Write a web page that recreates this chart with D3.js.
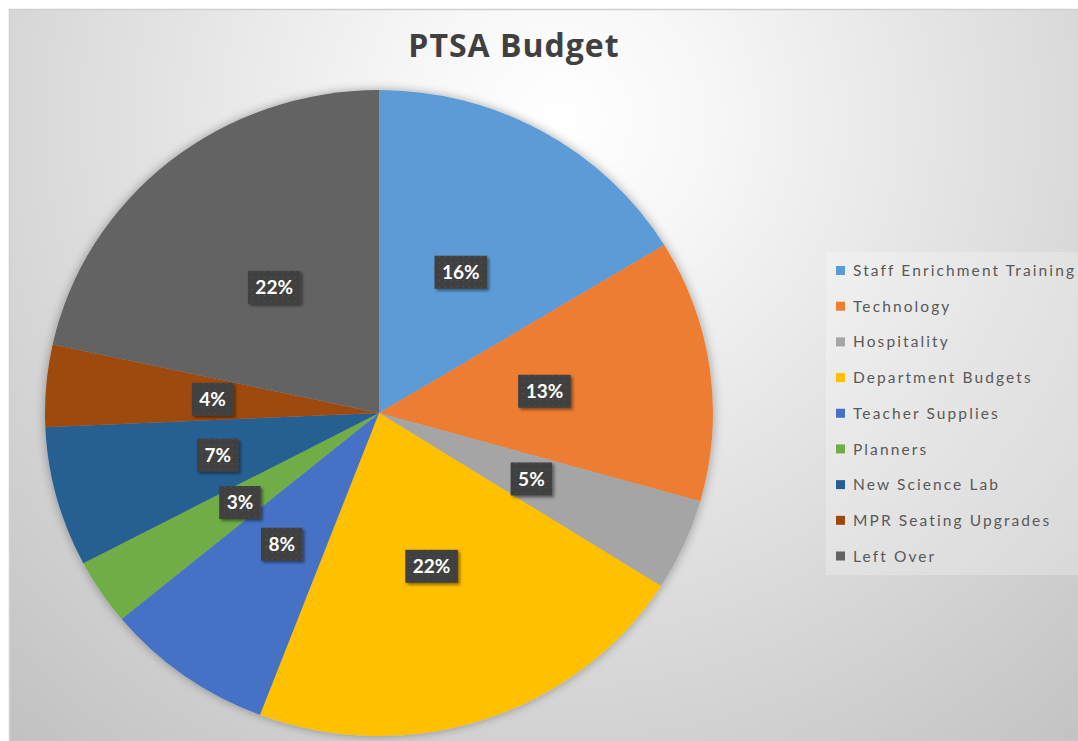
<!DOCTYPE html>
<html>
<head>
<meta charset="utf-8">
<script src="https://cdn.jsdelivr.net/npm/d3@7"></script>
<style>
  html, body { margin: 0; padding: 0; background: #fff; }
  svg { display: block; }
</style>
</head>
<body>
<div id="chart"></div>
<script>
// budget shares (percent)
const categories = ["Staff Enrichment Training", "Technology", "Hospitality", "Department Budgets",
  "Teacher Supplies", "Planners", "New Science Lab", "MPR Seating Upgrades", "Left Over"];
const values = [16.3, 13.1, 4.6, 21.8, 8.2, 3.3, 7.0, 4.1, 21.6];
const colors = ["#5B9BD5", "#ED7D31", "#A5A5A5", "#FFC000", "#4472C4", "#70AD47", "#255E91", "#9E480E", "#636363"];

const W = 1078, H = 741;
const cx = 379, cy = 413, r = 323, sx = 1.034; // pie is slightly wider than tall

const svg = d3.select("#chart").append("svg")
  .attr("width", W).attr("height", H);

const defs = svg.append("defs");

const bg = defs.append("radialGradient")
  .attr("id", "bg").attr("gradientUnits", "userSpaceOnUse")
  .attr("cx", 560).attr("cy", 120).attr("r", 820);
bg.append("stop").attr("offset", "0%").attr("stop-color", "#ffffff");
bg.append("stop").attr("offset", "18%").attr("stop-color", "#f7f7f7");
bg.append("stop").attr("offset", "100%").attr("stop-color", "#c2c2c2");

const pieShadow = defs.append("filter").attr("id", "pieShadow")
  .attr("x", "-10%").attr("y", "-10%").attr("width", "120%").attr("height", "120%");
pieShadow.append("feDropShadow").attr("dx", 0).attr("dy", 0)
  .attr("stdDeviation", 5).attr("flood-color", "#000").attr("flood-opacity", 0.35);

const boxShadow = defs.append("filter").attr("id", "boxShadow")
  .attr("x", "-20%").attr("y", "-20%").attr("width", "150%").attr("height", "150%");
boxShadow.append("feDropShadow").attr("dx", 2).attr("dy", 2)
  .attr("stdDeviation", 1.6).attr("flood-color", "#000").attr("flood-opacity", 0.45);

const dots = defs.append("pattern").attr("id", "dots")
  .attr("patternUnits", "userSpaceOnUse").attr("width", 6).attr("height", 6);
dots.append("rect").attr("width", 6).attr("height", 6).attr("fill", "#404040");
dots.append("rect").attr("x", 2).attr("y", 2).attr("width", 1).attr("height", 1).attr("fill", "#5c5c5c");

// chart area
svg.append("rect")
  .attr("x", 9.5).attr("y", 9.5).attr("width", W - 9).attr("height", H - 9)
  .attr("fill", "url(#bg)").attr("stroke", "#d0d0d0").attr("stroke-width", 1.5);

svg.append("text")
  .attr("x", 514).attr("y", 57)
  .attr("text-anchor", "middle")
  .attr("font-family", "'Open Sans', Lato, sans-serif")
  .attr("font-weight", "bold")
  .attr("font-size", 32)
  .attr("letter-spacing", 1)
  .attr("fill", "#404040")
  .text("PTSA Budget");

const pie = d3.pie().sort(null).value(d => d);
const arcs = pie(values);
const arc = d3.arc().innerRadius(0).outerRadius(r);
const labelArc = d3.arc().innerRadius(r * 0.5).outerRadius(r * 0.5);

svg.append("g")
  .attr("transform", `translate(${cx},${cy}) scale(${sx},1)`)
  .attr("filter", "url(#pieShadow)")
  .selectAll("path")
  .data(arcs)
  .enter().append("path")
  .attr("d", arc)
  .attr("fill", (d, i) => colors[i]);

const labels = svg.append("g")
  .selectAll("g")
  .data(arcs)
  .enter().append("g")
  .attr("transform", d => {
    const [x, y] = labelArc.centroid(d);
    return `translate(${cx + x * sx},${cy + y})`;
  });

labels.append("rect")
  .attr("class", "box")
  .attr("fill", "url(#dots)")
  .attr("filter", "url(#boxShadow)");

labels.append("text")
  .attr("text-anchor", "middle")
  .attr("dy", "0.35em")
  .attr("font-family", "Lato, 'Open Sans', sans-serif")
  .attr("font-weight", "bold")
  .attr("font-size", 19)
  .attr("fill", "#ffffff")
  .text(d => Math.round(d.data) + "%");

labels.each(function() {
  const g = d3.select(this);
  const bb = g.select("text").node().getBBox();
  g.select("rect.box")
    .attr("x", -bb.width / 2 - 7.5).attr("y", -16.5)
    .attr("width", bb.width + 15).attr("height", 33);
});

// legend
const legend = svg.append("g");
legend.append("rect")
  .attr("x", 826).attr("y", 252).attr("width", W - 826).attr("height", 323)
  .attr("fill", "#ffffff").attr("fill-opacity", 0.25);

const rowY = d3.scalePoint().domain(categories).range([270.5, 556]);

const items = legend.selectAll("g.item")
  .data(categories)
  .enter().append("g")
  .attr("class", "item")
  .attr("transform", d => `translate(836,${rowY(d)})`);

items.append("rect")
  .attr("x", 0).attr("y", -4.5).attr("width", 9).attr("height", 9)
  .attr("fill", (d, i) => colors[i]);

items.append("text")
  .attr("x", 17).attr("dy", "0.36em")
  .attr("font-family", "Lato, 'Open Sans', sans-serif")
  .attr("font-size", 15.5)
  .attr("letter-spacing", 2.1)
  .attr("fill", "#595959")
  .text(d => d);
</script>
</body>
</html>
